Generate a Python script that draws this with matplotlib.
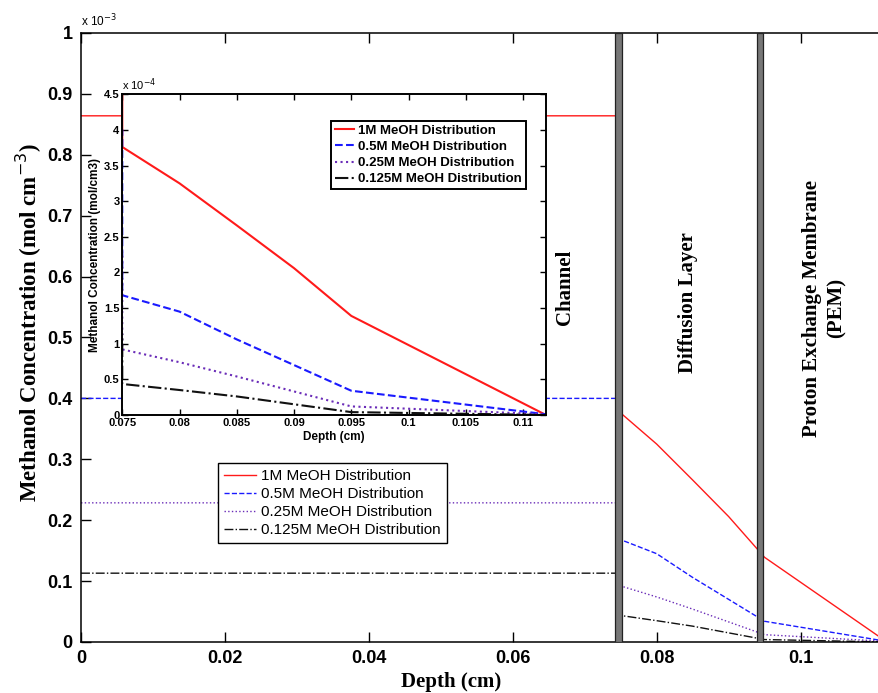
import numpy as np
import matplotlib
matplotlib.use("Agg")
from matplotlib import pyplot as plt

# depth through channel / diffusion layer / PEM (cm)
depth = [0.0, 0.075, 0.075, 0.080, 0.085, 0.090, 0.095, 0.112]
# methanol concentration (mol/cm3)
conc_1M = [8.64e-4, 8.64e-4, 3.76e-4, 3.25e-4, 2.66e-4, 2.06e-4, 1.39e-4, 0.0]
conc_05M = [4.00e-4, 4.00e-4, 1.68e-4, 1.45e-4, 1.06e-4, 0.70e-4, 0.34e-4, 0.01e-4]
conc_025M = [2.285e-4, 2.285e-4, 0.92e-4, 0.74e-4, 0.54e-4, 0.33e-4, 0.12e-4, 0.01e-4]
conc_0125M = [1.13e-4, 1.13e-4, 0.435e-4, 0.35e-4, 0.26e-4, 0.15e-4, 0.04e-4, 0.0]

series = [conc_1M, conc_05M, conc_025M, conc_0125M]
labels = ["1M MeOH Distribution", "0.5M MeOH Distribution",
          "0.25M MeOH Distribution", "0.125M MeOH Distribution"]
colors = ["#ff1a1a", "#1a1aff", "#6a2cb8", "#111111"]
styles = ["-", "--", ":", "-."]

main_xticks = [0, 0.02, 0.04, 0.06, 0.08, 0.1]
main_xticklabels = ["0", "0.02", "0.04", "0.06", "0.08", "0.1"]
main_yticks = [0, 0.1, 0.2, 0.3, 0.4, 0.5, 0.6, 0.7, 0.8, 0.9, 1]
main_yticklabels = ["0", "0.1", "0.2", "0.3", "0.4", "0.5", "0.6", "0.7", "0.8", "0.9", "1"]
inset_xticks = [0.075, 0.08, 0.085, 0.09, 0.095, 0.1, 0.105, 0.11]
inset_xticklabels = ["0.075", "0.08", "0.085", "0.09", "0.095", "0.1", "0.105", "0.11"]
inset_yticks = [0, 0.5, 1, 1.5, 2, 2.5, 3, 3.5, 4, 4.5]
inset_yticklabels = ["0", "0.5", "1", "1.5", "2", "2.5", "3", "3.5", "4", "4.5"]

boundaries = [0.0747, 0.0943]
regions = ["Channel", "Diffusion Layer", "Proton Exchange Membrane\n(PEM)"]
region_x = [0.0673, 0.0844, 0.1033]
region_y = [0.583, 0.557, 0.548]

serif = "Liberation Serif"
sans = "Liberation Sans"

fig = plt.figure(figsize=(8.79, 6.93), dpi=100)

# ---- main axes ----
ax = fig.add_axes([0.0922, 0.0736, 0.9078, 0.8788])
for c, lab, col, ls in zip(series, labels, colors, styles):
    ax.plot(depth, np.array(c) * 1e3, color=col, linestyle=ls, linewidth=1.0, label=lab)

bw = 0.00085
for b in boundaries:
    ax.axvspan(b - bw / 2, b + bw / 2, facecolor="#777777", edgecolor="#222222",
               linewidth=0.9, zorder=5)

for txt, x, y in zip(regions, region_x, region_y):
    ax.text(x, y, txt, rotation=90, ha="center", va="center", family=serif,
            fontweight="bold", fontsize=15, linespacing=1.3, multialignment="center")

ax.set_xlim(0, 0.1109)
ax.set_ylim(0, 1)
ax.set_xticks(main_xticks)
ax.set_xticklabels(main_xticklabels)
ax.set_yticks(main_yticks)
ax.set_yticklabels(main_yticklabels)
ax.tick_params(direction="in", length=7, width=1, top=True, right=False, pad=6)
for t in ax.get_xticklabels() + ax.get_yticklabels():
    t.set_family(sans)
    t.set_fontweight("bold")
    t.set_fontsize(13)
ax.spines["right"].set_visible(False)
for s in ["left", "top", "bottom"]:
    ax.spines[s].set_linewidth(1.1)

ax.set_xlabel("Depth (cm)", family=serif, fontweight="bold", fontsize=15)
ax.set_ylabel("Methanol Concentration (mol cm$^{-3}$)", family=serif,
              fontweight="bold", fontsize=16.5)
ax.xaxis.set_label_coords(0.464, -0.05)
ax.yaxis.set_label_coords(-0.046, 0.525)
ax.text(0.0, 1.006, "x 10$^{-3}$", transform=ax.transAxes, family=sans,
        fontsize=8.5, ha="left", va="bottom")

leg = ax.legend(loc="upper left", bbox_to_anchor=(0.2477, 0.3315),
                bbox_transform=fig.transFigure, borderaxespad=0, fancybox=False,
                framealpha=1, edgecolor="black", prop={"family": sans, "size": 11},
                handlelength=2.1, handletextpad=0.35, labelspacing=0.26, borderpad=0.4)
leg.get_frame().set_linewidth(1.0)

# ---- inset ----
ins = fig.add_axes([0.1391, 0.4012, 0.482, 0.4628])
for c, lab, col, ls in zip(series, labels, colors, styles):
    ins.plot(depth, np.array(c) * 1e4, color=col, linestyle=ls, linewidth=1.5, label=lab)
ins.set_xlim(0.075, 0.112)
ins.set_ylim(0, 4.5)
ins.set_xticks(inset_xticks)
ins.set_xticklabels(inset_xticklabels)
ins.set_yticks(inset_yticks)
ins.set_yticklabels(inset_yticklabels)
ins.tick_params(direction="in", length=4, width=1, top=True, right=True, pad=2)
for t in ins.get_xticklabels() + ins.get_yticklabels():
    t.set_family(sans)
    t.set_fontweight("bold")
    t.set_fontsize(8)
for s in ins.spines.values():
    s.set_linewidth(1.4)
ins.set_xlabel("Depth (cm)", family=sans, fontweight="bold", fontsize=8.5, labelpad=2)
ins.set_ylabel("Methanol Concentration (mol/cm3)", family=sans, fontweight="bold",
               fontsize=8.5, labelpad=2)
ins.text(0.0, 1.005, "x 10$^{-4}$", transform=ins.transAxes, family=sans,
         fontsize=8, ha="left", va="bottom")
ileg = ins.legend(loc="upper left", bbox_to_anchor=(0.3762, 0.8258),
                  bbox_transform=fig.transFigure, borderaxespad=0, fancybox=False,
                  framealpha=1, edgecolor="black",
                  prop={"family": sans, "size": 9.5, "weight": "bold"},
                  handlelength=1.5, handletextpad=0.3, labelspacing=0.3, borderpad=0.3)
ileg.get_frame().set_linewidth(1.4)

fig.savefig("out.png", dpi=100)
